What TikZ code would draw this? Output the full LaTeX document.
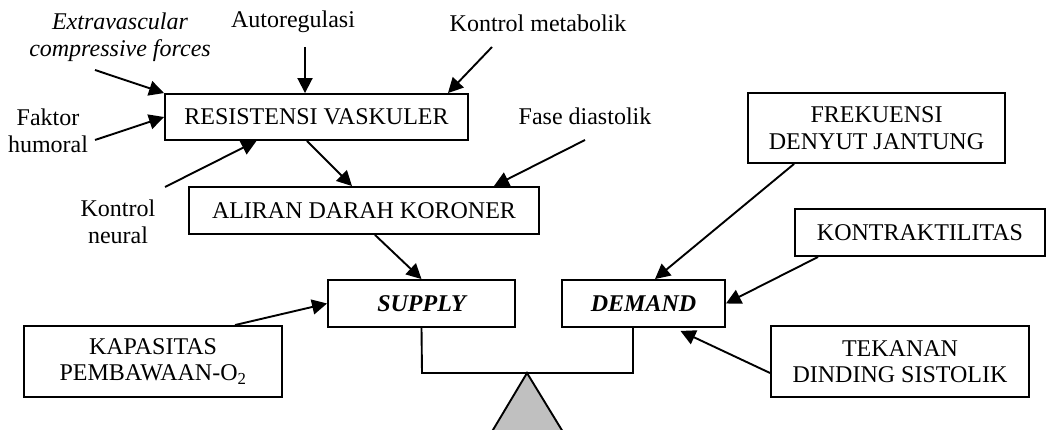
\documentclass[tikz,border=0pt]{standalone}
\usepackage{fontspec}
\setmainfont{Liberation Serif}
\usetikzlibrary{arrows.meta,calc}
\definecolor{trigray}{RGB}{192,192,192}
\begin{document}
\begin{tikzpicture}[x=1pt,y=-1pt,
  box/.style={draw,line width=1.9pt,inner sep=0pt,align=center,font=\fontsize{24}{26.5}\selectfont},
  lbl/.style={inner sep=0pt,align=center,font=\fontsize{24}{26.5}\selectfont},
  arr/.style={line width=1.9pt,-{Triangle[length=15pt,width=15pt]}},
  beam/.style={line width=1.9pt}]
\useasboundingbox (0,0) rectangle (1047,430);
% boxes
\node[box,minimum width=303pt,minimum height=46pt] (res) at (316.5,117) {RESISTENSI VASKULER};
\node[box,minimum width=350pt,minimum height=47pt] (ali) at (364,210.5) {ALIRAN DARAH KORONER};
\node[box,minimum width=187pt,minimum height=47pt] (sup) at (421.5,303.5) {\bfseries\itshape SUPPLY};
\node[box,minimum width=163pt,minimum height=47pt] (dem) at (643.5,303.5) {\bfseries\itshape DEMAND};
\node[box,minimum width=258pt,minimum height=71pt] (kap) at (153,361.5) {KAPASITAS\\PEMBAWAAN-O\textsubscript{2}};
\node[box,minimum width=257pt,minimum height=70pt] (fre) at (876.5,128) {FREKUENSI\\DENYUT JANTUNG};
\node[box,minimum width=250pt,minimum height=47pt] (kon) at (920,232.5) {KONTRAKTILITAS};
\node[box,minimum width=258pt,minimum height=71pt] (tek) at (900,361.5) {TEKANAN\\DINDING SISTOLIK};
% labels
\node[lbl] (evc) at (120,37) {\itshape Extravascular\\\itshape compressive forces};
\node[lbl] (auto) at (293,22) {Autoregulasi};
\node[lbl] (kmet) at (538,23) {Kontrol metabolik};
\node[lbl] (fhum) at (48,131) {Faktor\\humoral};
\node[lbl] (kneu) at (118,222) {Kontrol\\neural};
\node[lbl] (fdia) at (585,116) {Fase diastolik};
% arrow tails
\coordinate (evcT) at (95,70);
\coordinate (autoT) at (305,47);
\coordinate (kmetT) at (492,47);
\coordinate (fhumT) at (95,140);
\coordinate (kneuT) at (165,187);
\coordinate (fdiaT) at (585,140);
% arrows into RESISTENSI
\draw[arr] (evcT) -- (res.north west);
\draw[arr] (autoT) -- (autoT |- res.north);
\draw[arr] (kmetT) -- ($(res.north east)+(-21,0)$);
\draw[arr] (fhumT) -- (res.west);
\draw[arr] (kneuT) -- ($(res.south)+(-60,0)$);
% chain
\draw[arr] ($(res.south)+(-9.5,0)$) -- ($(ali.north)+(-12,0)$);
\draw[arr] (fdiaT) -- ($(ali.north east)+(-46,0)$);
\draw[arr] ($(ali.south)+(11,0)$) -- (sup.north);
\draw[arr] ($(kap.north)+(82,0)$) -- (sup.west);
% into DEMAND
\draw[arr] ($(fre.south west)+(47,0)$) -- ($(dem.north)+(11.5,0)$);
\draw[arr] ($(kon.south west)+(24,0)$) -- (dem.east);
\draw[arr] ($(tek.west)+(0,11.5)$) -- ($(dem.south)+(37,3)$);
% balance
\coordinate (bl) at (422,373);
\coordinate (br) at (633,373);
\coordinate (apex) at (527,373);
\begin{scope}
\clip (0,0) rectangle (1047,430);
\draw[line width=1.9pt,fill=trigray] (apex) -- (481,450) -- (574,450) -- cycle;
\end{scope}
\draw[beam] (sup.south) -- (bl) -- (br) -- (br |- dem.south);
\end{tikzpicture}
\end{document}
